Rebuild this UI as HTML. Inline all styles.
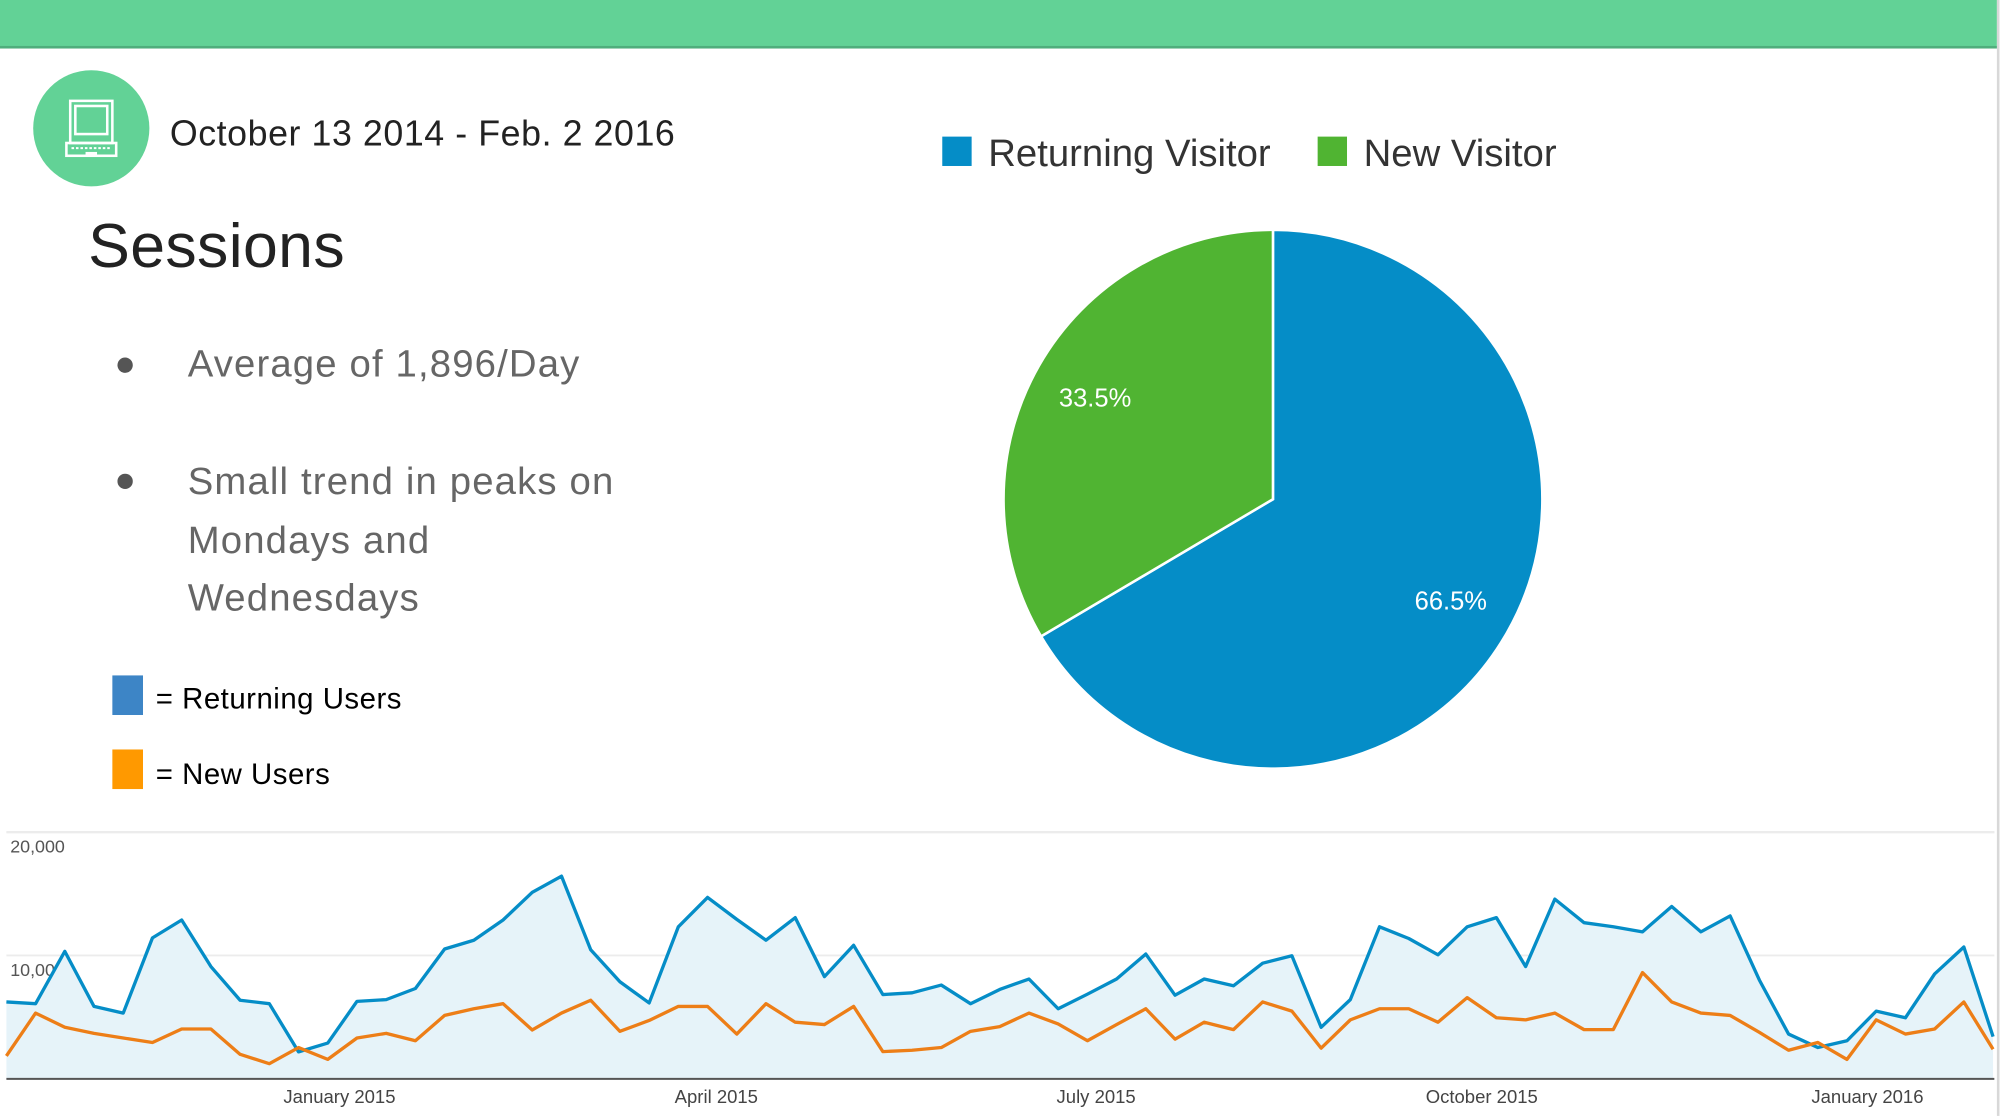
<!DOCTYPE html>
<html><head><meta charset="utf-8">
<style>
html,body{margin:0;padding:0;background:#fff;overflow:hidden;}
body{width:2002px;height:1116px;}
#wrap{position:absolute;left:0;top:0;width:1568px;height:874px;transform:scale(1.27679);transform-origin:0 0;font-family:"Liberation Sans",sans-serif;}
.abs{position:absolute;white-space:nowrap;}
</style></head><body>
<div id="wrap">
  <div class="abs" style="left:0;top:0;width:1564px;height:36px;background:#62d296;border-bottom:2px solid #4fae7c;"></div>
  <div class="abs" style="left:1564px;top:0;width:2px;height:874px;background:#d8d8d8;"></div>
  <div class="abs" style="left:26px;top:55px;width:91px;height:91px;border-radius:50%;background:#62d296;">
    <svg width="91" height="91" viewBox="0 0 91 91">
      <rect x="29" y="24" width="33" height="33" fill="none" stroke="#fff" stroke-width="2"/>
      <rect x="33" y="28" width="25" height="22" fill="none" stroke="#fff" stroke-width="2"/>
      <rect x="26" y="57" width="39" height="10" fill="none" stroke="#fff" stroke-width="2"/>
      <line x1="30" y1="61" x2="61" y2="61" stroke="#fff" stroke-width="1.5" stroke-dasharray="2,1.5"/>
      <rect x="41" y="64" width="9" height="3" fill="#fff"/>
    </svg>
  </div>
  <div class="abs" style="left:133px;top:89px;font-size:28px;color:#222;letter-spacing:0.45px;">October 13 2014 - Feb. 2 2016</div>
  <div class="abs" style="left:69px;top:165px;font-size:49px;color:#222;letter-spacing:0.3px;">Sessions</div>
  <div class="abs" style="left:92px;top:280px;width:12px;height:12px;border-radius:50%;background:#555;"></div>
  <div class="abs" style="left:147px;top:269px;font-size:30px;color:#666;letter-spacing:0.9px;">Average of 1,896/Day</div>
  <div class="abs" style="left:92px;top:371px;width:12px;height:12px;border-radius:50%;background:#555;"></div>
  <div class="abs" style="left:147px;top:355px;font-size:30px;color:#666;line-height:45.5px;white-space:normal;width:420px;letter-spacing:0.9px;">Small trend in peaks on<br>Mondays and<br>Wednesdays</div>
  <div class="abs" style="left:88px;top:529px;width:24px;height:31px;background:#3d85c6;"></div>
  <div class="abs" style="left:122px;top:534px;font-size:23px;color:#000;letter-spacing:0.4px;">= Returning Users</div>
  <div class="abs" style="left:88px;top:587px;width:24px;height:31px;background:#ff9900;"></div>
  <div class="abs" style="left:122px;top:593px;font-size:23px;color:#000;letter-spacing:0.4px;">= New Users</div>

  <div class="abs" style="left:738px;top:107px;width:23px;height:23px;background:#058dc7;"></div>
  <div class="abs" style="left:774px;top:104px;font-size:30px;color:#333;">Returning Visitor</div>
  <div class="abs" style="left:1032px;top:107px;width:23px;height:23px;background:#50b432;"></div>
  <div class="abs" style="left:1068px;top:104px;font-size:30px;color:#333;">New Visitor</div>

  <svg id="pie" class="abs" style="left:0;top:0;" width="1568" height="640"></svg>
  <svg id="line" class="abs" style="left:0;top:640px;" width="1568" height="234"></svg>
</div>
<script>
const pieLabels = ["Returning Visitor", "New Visitor"];
const pieValues = [66.5, 33.5];
const pieColors = ["#058dc7", "#50b432"];

const returningValues = [6230,6090,10330,5870,5330,11420,12870,9100,6370,6090,2190,2900,6280,6420,7320,10520,11230,12870,15110,16420,10460,7870,6150,12320,14700,12920,11230,13060,8280,10820,6830,6970,7600,6090,7240,8090,5680,6860,8090,10110,6780,8090,7540,9370,9970,4180,6420,12320,11370,10050,12320,13060,9100,14560,12650,12320,11910,13960,11910,13200,8010,3630,2540,3090,5490,4950,8500,10680,3420];
const newValues = [1860,5330,4180,3690,3310,2950,4040,4040,1990,1230,2540,1580,3310,3690,3090,5140,5680,6090,3960,5330,6370,3850,4730,5870,5870,3630,6090,4590,4400,5870,2210,2320,2540,3850,4230,5330,4450,3090,4400,5680,3220,4590,3990,6230,5490,2490,4780,5680,5680,4590,6580,4950,4780,5330,3990,3990,8610,6230,5330,5140,3770,2320,2950,1580,4780,3630,4040,6230,2400];
const yTicks = [10000, 20000];
const yTickLabels = ["10,000", "20,000"];
const xTickIndex = [11.4, 24.3, 37.3, 50.5, 63.7];
const xTickLabels = ["January 2015", "April 2015", "July 2015", "October 2015", "January 2016"];

const NS = "http://www.w3.org/2000/svg";
function mk(tag, attrs, parent){const e=document.createElementNS(NS,tag);for(const k in attrs)e.setAttribute(k,attrs[k]);parent.appendChild(e);return e;}

// Pie
(function(){
  const svg=document.getElementById('pie');
  const cx=997, cy=391, r=211;
  const total=pieValues.reduce((a,b)=>a+b,0);
  let a0=0;
  pieValues.forEach((v,i)=>{
    const a1=a0+v/total*2*Math.PI;
    const x0=cx+r*Math.sin(a0), y0=cy-r*Math.cos(a0);
    const x1=cx+r*Math.sin(a1), y1=cy-r*Math.cos(a1);
    const large=(a1-a0)>Math.PI?1:0;
    const p=mk('path',{d:`M${cx},${cy} L${x0},${y0} A${r},${r} 0 ${large} 1 ${x1},${y1} Z`,fill:pieColors[i],stroke:'#fff','stroke-width':2},svg);
    
    
    const am=(a0+a1)/2, lr=r*0.76;
    const t=mk('text',{x:cx+lr*Math.sin(am),y:cy-lr*Math.cos(am)+7,fill:'#fff','font-size':20,'text-anchor':'middle','font-family':'Liberation Sans, sans-serif'},svg);
    t.textContent=v.toFixed(1)+'%';
    
    
    a0=a1;
  });
})();

// Line chart (svg top = 640)
(function(){
  const svg=document.getElementById('line');
  const x0=5, x1=1561, n=returningValues.length;
  const X=i=>x0+(x1-x0)*i/(n-1);
  const Y=v=>205-v*96.7/10000;
  const top=mk('line',{x1:5,x2:1562,y1:12,y2:12,stroke:'#ececec','stroke-width':1.5},svg);
  
  
  yTicks.forEach((t,i)=>{
    const g=mk('line',{x1:5,x2:1562,y1:Y(t),y2:Y(t),stroke:'#ececec','stroke-width':1.5},svg);
    
    
    const tx=mk('text',{x:8,y:Y(t)+16,fill:'#555','font-size':14,'font-family':'Liberation Sans, sans-serif'},svg);
    tx.textContent=yTickLabels[i];
    
    
  });
  let d=`M${X(0)},${Y(0)}`;
  returningValues.forEach((v,i)=>{d+=` L${X(i)},${Y(v)}`;});
  d+=` L${X(n-1)},${Y(0)} Z`;
  const area=mk('path',{d:d,fill:'#e6f3f9'},svg);
  
  
  const pts=arr=>arr.map((v,i)=>X(i)+','+Y(v)).join(' ');
  const l1=mk('polyline',{points:pts(returningValues),fill:'none',stroke:'#058dc7','stroke-width':2.6,'stroke-linejoin':'round'},svg);
  
  
  const l2=mk('polyline',{points:pts(newValues),fill:'none',stroke:'#ed7e17','stroke-width':2.6,'stroke-linejoin':'round'},svg);
  
  
  const ax=mk('line',{x1:5,x2:1562,y1:Y(0),y2:Y(0),stroke:'#555','stroke-width':1.5},svg);
  
  
  xTickIndex.forEach((ti,i)=>{
    const t=mk('text',{x:X(ti),y:224,fill:'#444','font-size':14.5,'text-anchor':'middle','font-family':'Liberation Sans, sans-serif'},svg);
    t.textContent=xTickLabels[i];
    
    
  });
})();
</script>
</body></html>
